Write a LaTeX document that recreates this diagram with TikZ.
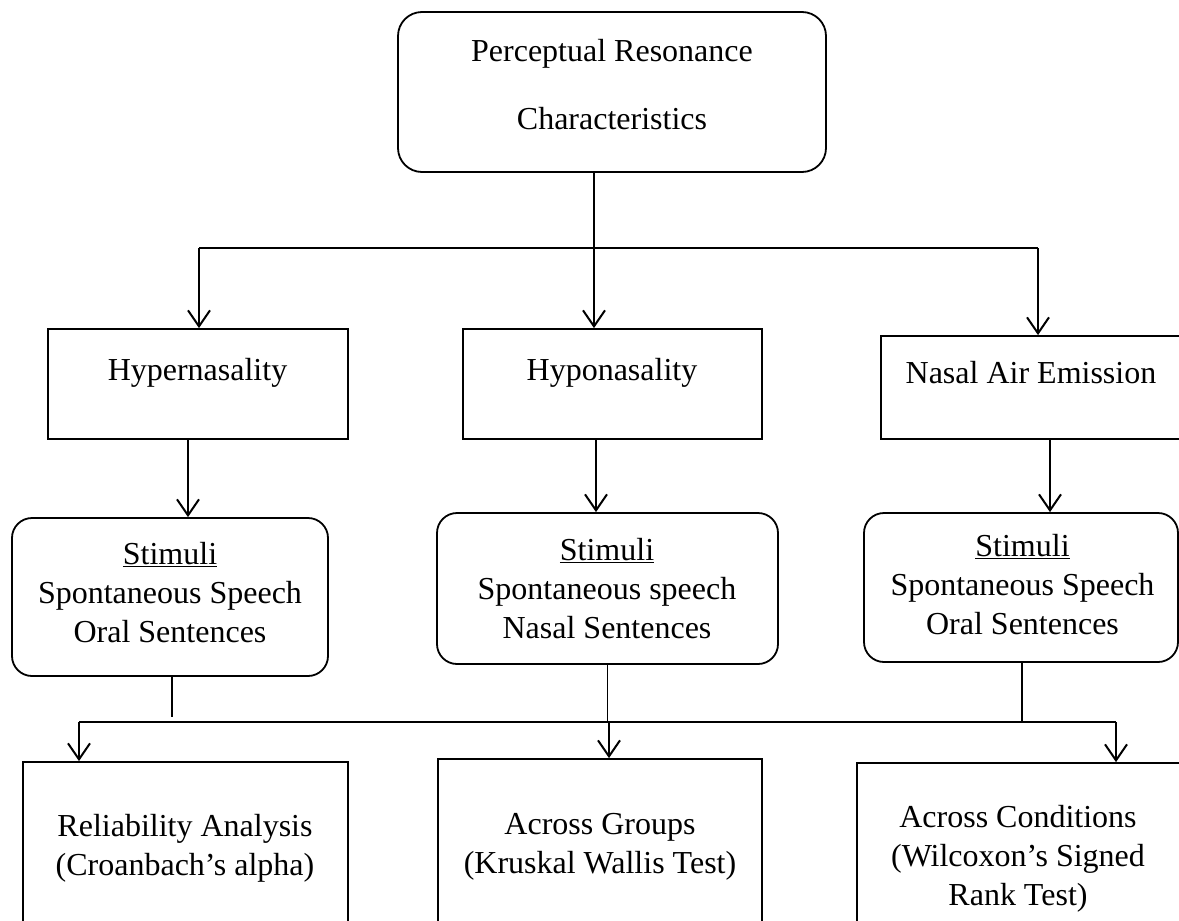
\documentclass[tikz,border=0pt]{standalone}
\usepackage{fontspec}
\setmainfont{Liberation Serif}
\usetikzlibrary{arrows.meta}

\begin{document}
\begin{tikzpicture}[x=1pt,y=-1pt,
    txt/.style={font=\fontsize{32}{39}\selectfont, align=center, inner sep=0pt, anchor=base},
    sqbox/.style={draw, line width=1.8pt, inner sep=0pt},
    rbox/.style={sqbox, rounded corners=20pt},
    conn/.style={line width=1.8pt},
    busline/.style={line width=1.4pt},
    arr/.style={conn, -{Straight Barb[length=16pt,width=22pt,line width=2pt]}}]

  \clip (0,0) rectangle (1179,921);
  \fill[white] (0,0) rectangle (1179,921);

  % top level (text anchors sit on the last line's baseline)
  \node[rbox, rounded corners=24pt, minimum width=428pt, minimum height=160pt] (top) at (612,92) {};
  \node[txt, font=\fontsize{32}{68}\selectfont] (toptxt) at (612,129) {Perceptual Resonance\\Characteristics};

  % characteristics
  \node[sqbox, minimum width=300pt, minimum height=110pt] (hyper) at (198,384) {};
  \node[sqbox, minimum width=299pt, minimum height=110pt] (hypo) at (612.5,384) {};
  \node[sqbox, minimum width=309pt, minimum height=103pt] (nasal) at (1035.5,387.5) {};
  \node[txt] (hypertxt) at (197.5,380) {Hypernasality};
  \node[txt] (hypotxt) at (612,380) {Hyponasality};
  \node[txt] (nasaltxt) at (1031,383) {Nasal Air Emission};

  % stimuli
  \node[rbox, minimum width=316pt, minimum height=158pt] (hstim) at (170,597) {};
  \node[rbox, minimum width=341pt, minimum height=151pt] (ostim) at (607.5,588.5) {};
  \node[rbox, minimum width=314pt, minimum height=149pt] (nstim) at (1021,587.5) {};
  \node[txt] (hstimtxt) at (170,642) {\underline{Stimuli}\\Spontaneous Speech\\Oral Sentences};
  \node[txt] (ostimtxt) at (607,638) {\underline{Stimuli}\\Spontaneous speech\\Nasal Sentences};
  \node[txt] (nstimtxt) at (1022.5,634) {\underline{Stimuli}\\Spontaneous Speech\\Oral Sentences};

  % analyses
  \node[sqbox, minimum width=325pt, minimum height=178pt] (rel) at (185.5,851) {};
  \node[sqbox, minimum width=324pt, minimum height=181pt] (grp) at (600,849.5) {};
  \node[sqbox, minimum width=333pt, minimum height=177pt] (cond) at (1023.5,851.5) {};
  \node[txt] (reltxt) at (185,875) {Reliability Analysis\\(Croanbach’s alpha)};
  \node[txt] (grptxt) at (600,873) {Across Groups\\(Kruskal Wallis Test)};
  \node[txt] (condtxt) at (1018,905) {Across Conditions\\(Wilcoxon’s Signed\\Rank Test)};

  % top box to the three characteristics
  \coordinate (jt) at (594,248);
  \coordinate (bl) at (199,248);
  \coordinate (br) at (1038,248);
  \draw[conn] (jt |- top.south) -- (jt);
  \draw[busline] (bl) -- (br);
  \draw[arr] (jt) -- (jt |- hypo.north);
  \draw[arr] (bl) -- (bl |- hyper.north);
  \draw[arr] (br) -- (br |- nasal.north);

  % characteristics to stimuli
  \path ([xshift=-10pt]hyper.south) coordinate (a1);
  \path ([xshift=-16.5pt]hypo.south) coordinate (a2);
  \path ([xshift=14.5pt]nasal.south) coordinate (a3);
  \draw[arr] (a1) -- (a1 |- hstim.north);
  \draw[arr] (a2) -- (a2 |- ostim.north);
  \draw[arr] (a3) -- (a3 |- nstim.north);

  % stimuli to the analyses
  \coordinate (ml) at (79,722);
  \coordinate (mm) at (609,722);
  \coordinate (mr) at (1116,722);
  \path ([xshift=2pt]hstim.south) coordinate (s1);
  \path ([xshift=1pt]nstim.south) coordinate (s3);
  \draw[busline, shorten >=5pt] (s1) -- (s1 |- ml);
  \draw[busline] (ostim.south) -- (ostim.south |- mm);
  \draw[busline] (s3) -- (s3 |- mr);
  \draw[busline] (ml) -- (mr);
  \draw[arr] (ml) -- (ml |- rel.north);
  \draw[arr] (mm) -- (mm |- grp.north);
  \draw[arr] (mr) -- (mr |- cond.north);
\end{tikzpicture}
\end{document}
